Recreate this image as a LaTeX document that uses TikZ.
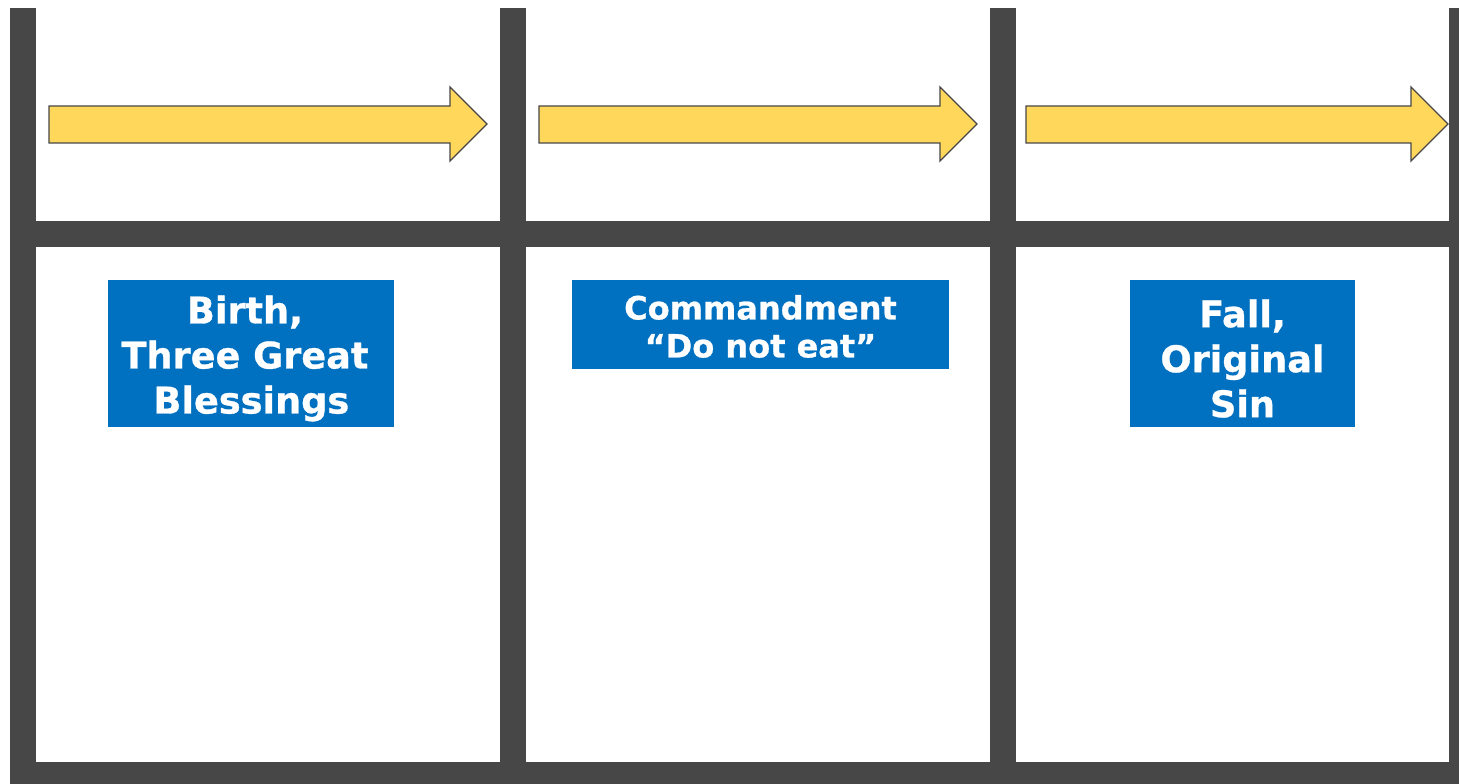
\documentclass[tikz,border=0pt]{standalone}
\usepackage{fontspec}
\setmainfont{DejaVu Sans}
\newfontfamily\labelfont[FakeBold=0.8]{DejaVu Sans Bold}
\usetikzlibrary{positioning}

\definecolor{bargray}{HTML}{474747}
\definecolor{arrowyellow}{HTML}{FFD75B}
\definecolor{boxblue}{HTML}{0070C0}

\tikzset{
  bar/.style={fill=bargray,draw=none},
  stagearrow/.style={fill=arrowyellow,draw=bargray,line width=1pt,line join=miter},
  stagebox/.style={fill=boxblue,inner sep=0pt},
  stagetext/.style={text=white,align=center,inner sep=0pt}
}

\begin{document}
\begin{tikzpicture}[x=0.75pt,y=-0.75pt]
\useasboundingbox[fill=white] (0,0) rectangle (1459,784);
%% frame bars
\foreach \x in {10,500,990,1449}{
	\fill[bar] (\x,8) rectangle (\x+26,784);
}
\fill[bar] (10,221) rectangle (1459,247);
\fill[bar] (10,762) rectangle (1459,784);
%% arrows along the top row
\foreach \a/\b in {49/487,539/977,1026/1448}{
	\draw[stagearrow] (\a,106) -- (\b-37,106) -- (\b-37,87) -- (\b,124)
	  -- (\b-37,161) -- (\b-37,143) -- (\a,143) -- cycle;
}
%% stage labels
\node[stagebox,minimum width=286*0.75pt,minimum height=147*0.75pt] (birth) at (251,353.5) {};
\node[stagebox,minimum width=377*0.75pt,minimum height=89*0.75pt] (command) at (760.5,324.5) {};
\node[stagebox,minimum width=225*0.75pt,minimum height=147*0.75pt] (fall) at (1242.5,353.5) {};
\node[stagetext,font=\labelfont\fontsize{27.5}{33.75}\selectfont] (birthtext)
  at ([xshift=-4.5pt,yshift=-3.75pt]birth.center) {Birth,\\Three Great\\\ Blessings};
\node[stagetext,font=\labelfont\fontsize{24}{28.5}\selectfont] (commandtext)
  at ([yshift=-1.5pt]command.center) {Commandment\\“Do not eat”};
\node[stagetext,font=\labelfont\fontsize{27.5}{33.75}\selectfont] (falltext)
  at ([yshift=-3.75pt]fall.center) {Fall,\\Original\\Sin};
\end{tikzpicture}
\end{document}
